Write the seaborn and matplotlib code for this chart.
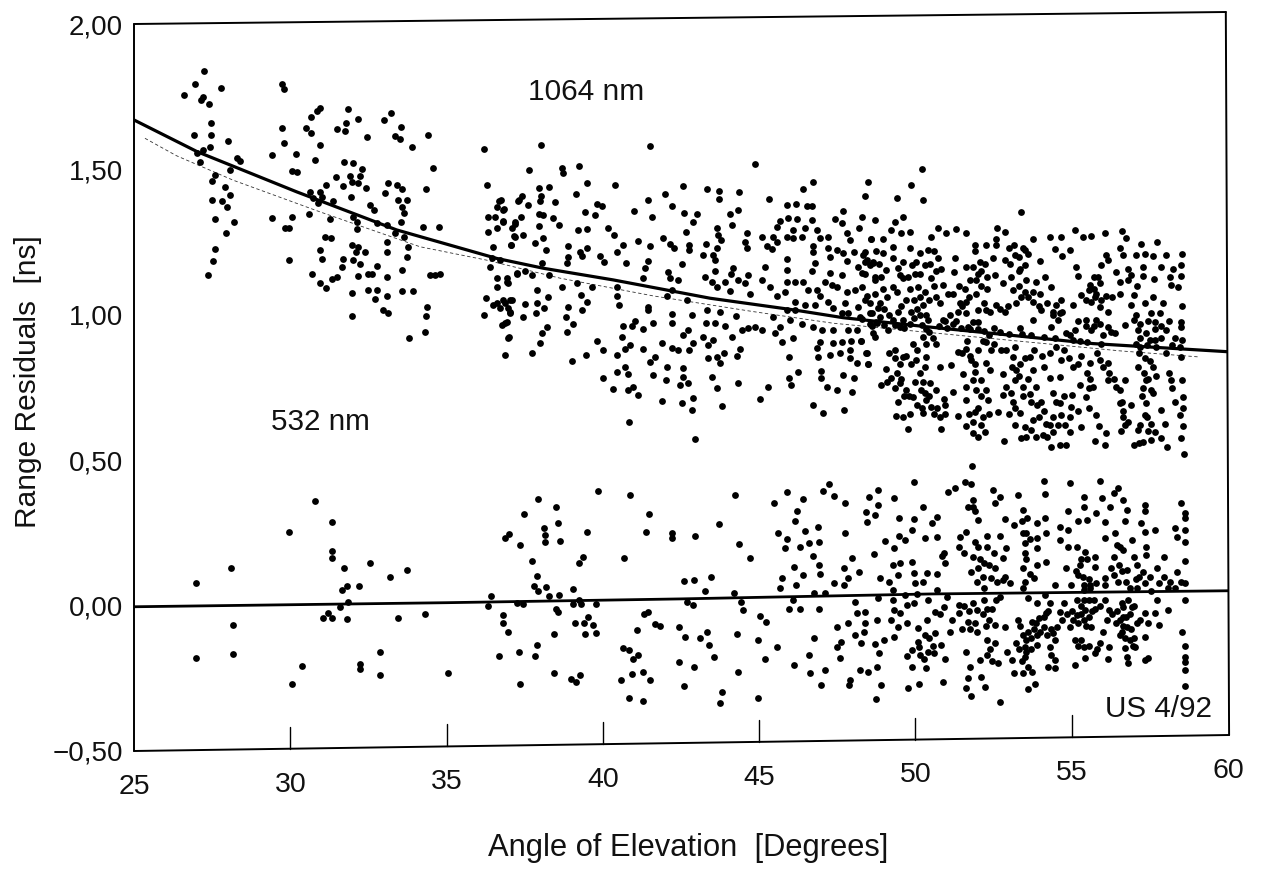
import matplotlib
matplotlib.use("Agg")
import matplotlib.pyplot as plt
import matplotlib.transforms as mtrans
import pandas as pd
import seaborn as sns

x_ticks = [25, 30, 35, 40, 45, 50, 55, 60]
y_ticks = [-0.5, 0.0, 0.5, 1.0, 1.5, 2.0]
y_tick_labels = ["\u22120,50", "0,00", "0,50", "1,00", "1,50", "2,00"]

curve_1064_thick = [(25, 1.67), (27.02, 1.561), (30.2, 1.423), (33.4, 1.292), (36.6, 1.194), (38.1, 1.16),
                    (40.33, 1.12), (43.43, 1.057), (46.1, 1.017), (47.69, 0.99), (50.35, 0.959), (52.48, 0.936),
                    (55.68, 0.901), (60, 0.873)]
curve_1064_thin = [(25.35, 1.607), (26.36, 1.547), (28.17, 1.463), (30.95, 1.354), (34.15, 1.234), (36.28, 1.188),
                   (38.63, 1.126), (41.61, 1.065), (44.81, 1.011), (47.37, 0.971), (56.54, 0.876), (59.09, 0.855)]
curve_532 = [(25, -0.004), (35, 0.01), (42.47, 0.023), (50.47, 0.04), (60, 0.051)]

upper_a = [(27.24,1.84),(26.94,1.795),(26.60,1.756),(27.78,1.78),(27.22,1.75),(27.14,1.74),(27.40,1.725),(27.47,1.66),
(26.91,1.62),(27.46,1.62),(28.0,1.597),(27.43,1.576),(27.22,1.567),(27.02,1.555),(27.11,1.526),(28.28,1.538),(28.39,1.53),
(28.07,1.498),(27.59,1.48),(27.50,1.46),(27.91,1.438),(28.07,1.412),(27.83,1.392),(27.49,1.396),(27.99,1.372),(27.59,1.33),
(28.19,1.319),(27.94,1.283),(27.59,1.227),(27.54,1.186),(27.38,1.137)]

upper_b = [(29.74,1.794),(29.80,1.776),(29.75,1.642),(29.81,1.592),(29.41,1.548),(30.95,1.71),(30.84,1.70),(30.66,1.68),
(30.50,1.643),(30.65,1.626),(30.96,1.585),(30.18,1.553),(30.78,1.531),(30.04,1.493),(30.20,1.492),(29.43,1.334),(30.05,1.337),
(29.83,1.30),(29.97,1.30),(29.97,1.19),(31.85,1.708),(31.78,1.66),(32.18,1.673),(31.48,1.639),(31.75,1.631),(32.45,1.61),
(33.0,1.67),(33.23,1.693),(33.53,1.647),(33.35,1.615),(33.50,1.603),(33.90,1.577),(34.40,1.62),(34.55,1.506),(34.35,1.432),
(31.71,1.524),(32.0,1.522),(32.28,1.502),(31.91,1.479),(32.23,1.477),(31.47,1.474),(31.69,1.444),(31.96,1.455),(32.17,1.454),
(32.43,1.436),(31.13,1.446),(30.95,1.423),(30.63,1.423),(30.73,1.40),(31.02,1.406),(31.37,1.392),(30.89,1.383),(30.61,1.345),
(31.26,1.329),(31.94,1.405),(32.55,1.377),(32.67,1.36),(33.12,1.454),(33.03,1.42),(33.42,1.446),(33.56,1.432),(33.45,1.395),
(33.72,1.395),(33.59,1.372),(33.63,1.349),(33.53,1.319),(34.25,1.303),(34.76,1.302),(32.01,1.337),(32.14,1.32),(32.14,1.294),
(32.76,1.314),(33.08,1.309),(33.35,1.282),(33.63,1.268),(33.11,1.249),(33.11,1.215),(33.77,1.234),(33.72,1.20),(33.59,1.154),
(34.46,1.137),(34.62,1.137),(34.78,1.139),(33.58,1.082),(33.94,1.082),(34.38,1.028),(34.34,0.996),(34.32,0.941),(33.80,0.92),
(31.11,1.268),(31.29,1.263),(30.95,1.223),(31.02,1.192),(31.96,1.24),(32.17,1.234),(32.10,1.217),(32.39,1.215),(31.69,1.192),
(31.64,1.165),(32.01,1.188),(32.23,1.175),(31.48,1.131),(31.32,1.122),(30.71,1.139),(30.95,1.11),(31.13,1.093),(32.17,1.133),
(32.49,1.142),(32.76,1.168),(32.6,1.142),(33.08,1.129),(32.49,1.085),(32.78,1.085),(31.96,1.076),(33.08,1.064),(32.71,1.054),
(32.97,1.016),(33.13,1.007),(31.98,0.996)]

upper_c = [(36.2,1.569),(36.28,1.446),(36.68,1.392),(36.6,1.372),(36.81,1.36),(37.31,1.395),(36.33,1.335),(36.54,1.337),
(36.79,1.32),(36.31,1.286),(36.6,1.30),(37.18,1.32),(37.08,1.297),(37.18,1.268),(36.47,1.234),(37.05,1.24),(36.44,1.194),
(36.7,1.188),(36.4,1.163),(37.24,1.142),(36.6,1.128),(36.92,1.128),(36.97,1.108),(36.6,1.097),(36.25,1.059),(36.6,1.04),
(36.81,1.051),(36.49,1.034),(37.02,1.051),(36.7,1.022),(36.97,1.022),(37.02,1.005),(36.2,1.00),(36.92,0.976),(36.76,0.965),
(36.97,0.921)]

upper_d = [(38.01,1.584),(41.52,1.582),(44.87,1.519),(37.64,1.497),(38.68,1.506),(38.74,1.487),(39.25,1.512),(39.48,1.452),
(40.39,1.447),(38.29,1.441),(37.97,1.435),(38.01,1.407),(37.99,1.39),(39.14,1.415),(38.46,1.388),(37.40,1.407),(37.30,1.392),
(37.62,1.379),(36.74,1.395),(36.84,1.363),(39.80,1.381),(39.96,1.374),(39.75,1.344),(39.43,1.352),(37.97,1.347),(38.10,1.344),
(38.42,1.332),(38.61,1.309),(37.37,1.335),(37.19,1.313),(36.80,1.321),(37.97,1.305),(39.19,1.291),(39.48,1.295),(40.17,1.298),
(40.37,1.275),(37.17,1.271),(37.46,1.275),(37.06,1.24),(38.10,1.263),(37.83,1.248),(38.17,1.223),(38.90,1.235),(39.27,1.217),
(39.50,1.231),(40.63,1.24),(40.44,1.216),(41.13,1.254),(41.52,1.235),(38.90,1.20),(38.86,1.177),(39.32,1.203),(39.91,1.203),
(40.04,1.183),(40.74,1.178),(41.45,1.186),(41.35,1.16),(41.29,1.128),(38.04,1.177),(37.24,1.143),(37.51,1.149),(37.72,1.137),
(38.29,1.137),(36.92,1.114),(38.70,1.097),(39.16,1.11),(39.64,1.097),(37.90,1.086),(38.24,1.06),(39.30,1.067),(39.50,1.044),
(37.08,1.051),(36.87,1.04),(37.03,1.011),(37.51,1.038),(37.90,1.04),(38.12,1.023),(37.85,1.005),(37.46,0.994),(38.90,1.026),
(39.34,1.015),(38.82,0.994),(39.06,0.968),(38.84,0.94),(36.87,0.971),(38.20,0.957),(38.04,0.937),(37.99,0.902),(37.0,0.922),
(36.87,0.862),(37.72,0.87),(39.0,0.841),(39.45,0.862),(39.81,0.91),(40.0,0.879),(40.44,1.097),(40.44,1.063),(40.52,1.034),
(41.45,1.028),(41.45,1.017),(41.03,0.977),(40.65,0.963),(40.92,0.962),(41.29,0.95),(41.61,0.971),(40.60,0.925),(40.87,0.897),
(40.71,0.882),(40.44,0.862),(41.27,0.882),(41.67,0.856),(41.51,0.839),(40.71,0.822),(40.44,0.805),(40.81,0.797),(39.99,0.782),
(40.33,0.744),(40.81,0.742),(40.97,0.753),(41.13,0.725),(40.84,0.633),(41.61,0.793),(42.01,0.776),(42.04,0.822),(41.88,0.705),
(42.53,0.698),(42.84,0.673),(42.89,0.713),(42.96,0.574),(43.80,0.687),(42.55,0.816),(42.55,0.787),(42.73,0.765),(42.47,0.759),
(41.45,1.396),(42.0,1.416),(42.55,1.443),(43.32,1.433),(43.71,1.427),(43.73,1.397),(44.35,1.423),(42.21,1.374),(40.99,1.358),
(41.58,1.338),(42.59,1.349),(43.02,1.348),(42.87,1.318),(42.66,1.286),(41.93,1.264),(42.15,1.244),(42.27,1.229),(42.75,1.24),
(42.77,1.223),(43.29,1.245),(43.64,1.298),(43.69,1.275),(43.77,1.258),(43.64,1.229),(43.53,1.206),(43.21,1.204),(43.59,1.189),
(42.52,1.173),(42.09,1.148),(42.15,1.126),(42.40,1.118),(43.59,1.149),(44.17,1.162),(44.09,1.139),(43.27,1.129),(43.48,1.114),
(43.64,1.097),(43.91,1.112),(44.33,1.12),(44.65,1.137),(44.55,1.111),(44.07,1.083),(44.71,1.072),(45.1,1.12),(45.35,1.097),
(42.04,1.063),(42.2,1.086),(42.68,1.051),(43.32,1.017),(43.75,1.011),(42.22,1.003),(42.21,0.971),(42.84,1.0),(43.29,0.973),
(43.59,0.971),(43.91,0.962),(44.26,0.996),(44.44,0.948),(44.65,0.954),(44.87,0.959),(45.08,0.948),(42.73,0.948),(42.55,0.931),
(43.21,0.925),(43.53,0.914),(43.37,0.896),(44.12,0.922),(42.89,0.904),(41.88,0.902),(42.2,0.885),(42.41,0.879),(42.77,0.879),
(44.39,0.883),(44.30,0.859),(43.87,0.87),(43.64,0.856),(43.37,0.851),(43.75,0.833),(43.50,0.786),(43.64,0.75),(44.32,0.767),
(45.29,0.753),(45.03,0.712),(45.96,0.782),(46.02,0.759),(46.25,0.805),(46.73,0.69),(47.03,0.661),(47.71,0.673),(47.96,0.733),
(47.48,0.742),(47.16,0.753),(47.69,0.793),(48.03,0.784),(46.99,0.808),(46.99,0.782),(48.49,0.831),(48.44,0.87),(48.12,0.833),
(47.90,0.851),(47.90,0.879),(47.58,0.868),(47.26,0.862),(46.89,0.856),(46.84,0.885),(46.94,0.908),(47.37,0.902),(47.64,0.908),
(47.93,0.91),(48.26,0.91),(47.37,0.948),(47.0,0.948),(46.73,0.959),(46.38,0.969),(46.09,0.92),(45.72,0.906),(45.94,0.856),
(45.50,0.937),(45.67,0.959),(46.0,0.982),(45.45,0.994),(47.85,0.948),(48.12,0.948),(48.70,0.925),(48.76,0.971),
(45.32,1.397),(45.88,1.379),(46.18,1.382),(46.52,1.374),(46.68,1.374),(46.39,1.432),(46.73,1.456),(48.47,1.458),(48.40,1.408),
(44.07,1.347),(44.32,1.36),(44.12,1.309),(44.6,1.28),(44.55,1.252),(44.6,1.229),(45.08,1.269),(45.45,1.269),(45.24,1.237),
(45.56,1.252),(45.40,1.225),(45.67,1.324),(45.93,1.332),(46.2,1.331),(45.56,1.303),(46.09,1.292),(46.46,1.298),(46.68,1.326),
(45.88,1.269),(46.09,1.263),(46.36,1.269),(46.84,1.292),(46.94,1.263),(47.21,1.269),(47.69,1.357),(47.42,1.329),(47.64,1.315),
(48.30,1.338),(48.21,1.298),(48.70,1.326),(47.80,1.28),(47.90,1.258),(48.58,1.26),(46.73,1.235),(46.73,1.217),(47.21,1.229),
(47.48,1.223),(47.69,1.212),(47.26,1.2),(48.03,1.215),(48.38,1.217),(47.82,1.184),(48.44,1.189),(46.78,1.177),(46.68,1.149),
(48.17,1.166),(48.65,1.177),(45.88,1.191),(45.88,1.154),(45.19,1.166),(45.88,1.114),(46.14,1.114),(46.41,1.114),(45.83,1.08),
(46.57,1.086),(46.84,1.086),(47.10,1.114),(47.26,1.143),(47.64,1.137),(47.32,1.103),(47.48,1.097),(48.28,1.143),(48.28,1.097),
(48.70,1.12),(46.94,1.063),(47.21,1.045),(47.80,1.08),(48.06,1.086),(48.44,1.063),(47.74,1.04),(48.17,1.028),(48.54,1.04),
(45.56,1.063),(46.14,1.045),(46.47,1.034),(46.78,1.034),(47.37,1.023),(47.64,1.005),(47.85,1.005),(48.22,0.994),(48.60,1.005),
(48.81,1.023),(45.88,1.017),(46.14,1.017)]

upper_e = [(50.2,1.503),(49.87,1.448),(49.42,1.40),(50.25,1.395),(53.39,1.352),(49.61,1.337),(49.34,1.32),(49.23,1.291),
(49.55,1.28),(49.82,1.285),(48.97,1.262),(48.59,1.259),(50.73,1.297),(50.51,1.268),(50.97,1.283),(51.31,1.296),(51.63,1.283),
(52.61,1.297),(52.86,1.285),(52.59,1.262),(51.9,1.24),(51.9,1.22),(52.27,1.24),(52.59,1.24),(53.15,1.24),(53.76,1.262),
(53.5,1.222),(53.18,1.205),(54.3,1.268),(54.67,1.268),(54.46,1.225),(54.94,1.222),(54.70,1.202),(55.1,1.291),(55.36,1.266),
(55.63,1.27),(56.06,1.28),(56.61,1.288),(56.75,1.265),(57.21,1.243),(57.73,1.251),(56.54,1.228),(56.64,1.205),(56.11,1.207),
(56.16,1.188),(57.07,1.205),(57.34,1.209),(57.6,1.202),(58.03,1.207),(58.53,1.209),(58.51,1.171),(54.0,1.186),(53.02,1.176),
(53.34,1.159),(52.54,1.136),(52.48,1.194),(52.22,1.176),(51.84,1.165),(51.63,1.165),(51.26,1.194),(51.24,1.148),(50.83,1.156),
(50.41,1.222),(50.14,1.211),(49.82,1.228),(49.29,1.234),(48.75,1.22),(48.33,1.205),(50.73,1.194),(50.46,1.176),(50.03,1.182),
(49.61,1.182),(49.29,1.194),(48.97,1.211),(48.65,1.182),(49.07,1.154),(49.50,1.136),(48.70,1.131),(48.38,1.142),(50.14,1.142),
(50.51,1.125),(55.15,1.165),(55.2,1.134),(55.95,1.171),(56.43,1.148),(56.8,1.159),(56.91,1.136),(57.28,1.165),(57.28,1.134),
(57.63,1.123),(57.87,1.165),(58.24,1.159),(58.13,1.131),(58.51,1.134),(58.19,1.102),(58.40,1.094),(56.54,1.113),(56.8,1.119),
(57.1,1.099),(55.84,1.131),(55.58,1.102),(55.31,1.068),(55.79,1.073),(56.11,1.065),(56.54,1.073),(56.98,1.069),(55.63,1.045),
(55.9,1.027),(56.16,1.01),(56.91,1.033),(57.34,1.039),(57.6,1.062),(57.92,1.039),(58.54,1.031),(54.67,1.05),(55.04,1.033),
(54.62,1.005),(54.40,1.01),(54.56,0.982),(54.14,1.131),(54.35,1.096),(53.87,1.113),(53.55,1.119),(52.8,1.108),(53.12,1.085),
(53.39,1.062),(53.23,1.039),(53.98,1.073),(53.76,1.045),(54.03,1.016),(53.76,0.982),(52.59,1.033),(52.86,1.01),(52.27,1.016),
(52.0,1.016),(51.63,1.045),(51.42,1.039),(50.89,1.102),(51.05,1.073),(50.67,1.062),(50.25,1.033),(49.82,1.09),(49.71,1.05),
(50.09,1.096),(50.14,1.062),(49.29,1.096),(48.7,1.073),(48.86,1.039),(48.38,1.05),(48.54,1.005),(48.86,0.993),(49.29,0.982),
(49.61,0.982),(49.82,0.97),(50.14,1.0),(50.41,0.982),(49.50,0.959),(49.13,0.947),(48.65,0.936),(48.54,0.97),(50.89,0.982),
(51.31,0.979),(51.63,1.005),(51.84,0.976),(52.0,0.976),(51.68,0.959),(53.34,0.953),(54.35,0.959),(54.83,0.936),(55.1,0.947),
(55.47,0.982),(55.79,0.982),(55.63,0.947),(56.16,0.959),(56.38,0.936),(56.7,0.964),(57.0,0.982),(57.12,0.947),(57.55,1.007),
(57.81,1.005),(57.65,0.976),(57.39,0.936),(58.03,0.947),(58.51,0.976),(58.51,0.959),(58.54,0.913),(57.65,0.913),(57.07,0.901),
(55.04,0.913),(48.43,0.87),(48.49,0.83),(48.27,0.909),(49.07,0.813),(49.34,0.878),(49.61,0.855),(50.35,0.901),(50.67,0.901),
(49.93,0.901),(50.03,0.844),(50.35,0.855),(50.3,0.821),(50.78,0.819),(51.15,0.827),(51.36,0.873),(51.63,0.884),(51.79,0.844),
(52.27,0.907),(52.43,0.878),(52.27,0.833),(52.38,0.81),(51.9,0.804),(51.53,0.795),(52.8,0.798),(52.91,0.878),(53.12,0.855),
(53.66,0.855),(54.3,0.867),(54.67,0.844),(55.04,0.821),(54.62,0.787),(54.3,0.781),(55.58,0.833),(55.9,0.844),(56.16,0.833),
(57.12,0.821),(57.6,0.821),(58.03,0.867),(58.51,0.855),(56.7,0.775),(56.16,0.775),(56.43,0.752),(55.68,0.752),(55.47,0.718),
(55.0,0.724),(54.4,0.73),(53.87,0.752),(53.23,0.81),(53.18,0.775),(53.44,0.752),(53.66,0.729),(52.91,0.752),(52.8,0.724),
(52.27,0.741),(51.63,0.752),(51.63,0.707),(51.2,0.735),(52.11,0.775),(51.84,0.775),(50.46,0.764),(50.19,0.741),(49.5,0.764),
(49.23,0.781),(48.91,0.758),(49.71,0.741),(49.93,0.718),(49.45,0.701),(50.35,0.706),(50.51,0.684),(50.94,0.689),(50.78,0.649),
(50.25,0.661),(49.82,0.658),(49.37,0.651),(49.77,0.607),(50.81,0.609),(51.36,0.653),(51.61,0.618),(51.84,0.594),(51.9,0.666),
(52.22,0.598),(52.16,0.649),(52.32,0.707),(52.64,0.666),(52.83,0.567),(53.12,0.701),(53.34,0.661),(53.5,0.615),(53.39,0.575),
(53.71,0.603),(53.76,0.638),(54.03,0.701),(54.19,0.626),(54.08,0.586),(54.4,0.598),(54.35,0.546),(54.62,0.552),(54.83,0.552),
(54.62,0.695),(54.99,0.684),(54.4,0.649),(54.67,0.655),(54.96,0.598),(55.31,0.615),(55.55,0.678),(55.79,0.655),(55.87,0.618),
(55.74,0.567),(56.11,0.592),(56.06,0.552),(56.57,0.601),(56.64,0.649),(56.54,0.695),(56.91,0.689),(57.0,0.552),(57.28,0.563),
(57.12,0.603),(57.39,0.695),(57.34,0.655),(57.55,0.626),(57.65,0.598),(57.87,0.575),(58.05,0.546),(57.87,0.672),(57.98,0.626),
(58.45,0.655),(58.56,0.618),(58.51,0.575),(58.58,0.52),(58.54,0.775),(58.56,0.718),(58.29,0.701),(58.19,0.775),(57.39,0.775),
(57.6,0.73),(57.28,0.747)]

upper_f = [(48.4,1.18),(48.55,1.17),(48.85,1.175),(48.9,1.13),(48.95,1.09),(49.1,1.06),(49.0,1.02),(49.15,1.0),(49.45,1.16),
(49.6,1.125),(49.4,1.08),(49.55,1.03),(49.75,1.13),(49.9,1.17),(50.0,1.14),(49.95,1.05),(50.05,1.02),(50.3,1.17),(50.3,1.08),
(50.35,1.0),(50.6,1.22),(50.65,1.15),(50.6,1.1),(50.8,1.04),(50.45,1.05),(49.85,1.01),(49.45,1.01),(48.3,0.985),(48.6,0.96),
(48.75,0.975),(49.0,0.965),(49.35,0.965),(49.65,0.955),(49.95,0.99),(50.2,0.965),(50.35,0.95),(50.25,0.925),(50.45,0.94),
(50.55,0.92),(50.75,0.96),(51.0,0.955),(51.2,0.97),(51.45,0.955),(51.75,0.95),(52.0,0.95),(52.2,0.945),(52.35,0.93),(52.5,0.955),
(52.7,0.94),(53.0,0.935),(53.4,0.935),(53.7,0.93),(54.1,0.925),(54.45,0.92),(54.95,0.93),(55.25,0.91),(55.5,0.905),(55.95,0.9),
(57.2,0.89),(57.4,0.895),(57.5,0.915),(57.7,0.89),(57.85,0.92),(58.2,0.895),(58.45,0.89),(51.95,1.12),(52.1,1.1),(52.3,1.09),
(52.1,1.15),(52.3,1.13),(51.5,1.03),(51.7,1.06),(51.95,1.07),(52.2,1.04),(52.4,1.01),(52.7,1.02),(52.95,1.03),(53.05,1.13),
(53.3,1.1),(53.5,1.08),(53.6,1.06),(53.75,1.08),(53.95,1.03),(54.2,1.04),(54.4,1.0),(54.5,1.035),(54.7,1.01),(55.2,0.98),
(55.45,0.96),(55.7,0.96),(55.9,0.97),(56.0,0.93),(56.25,0.94),(55.45,1.05),(55.55,1.085),(55.7,1.09),(55.75,1.06),(55.95,1.05),
(55.7,1.13),(55.9,1.11),(56.3,1.06),(57.05,1.0),(57.2,0.97),(57.45,0.98),(57.65,0.95),(57.85,0.96),(58.1,0.98),(57.2,0.92),
(58.3,0.92),(53.0,1.23),(53.3,1.2),(53.45,1.23),(53.6,1.21),(53.3,1.15),(53.5,1.17),(52.85,1.19),(52.05,1.18),(52.0,1.14),
(51.75,1.12),(51.6,1.09),(51.2,1.07),(51.4,1.1),(51.1,1.0),(50.95,0.98),(51.35,1.01),(49.15,0.87),(49.35,0.85),(49.5,0.83),
(49.4,0.8),(49.7,0.86),(49.85,0.83),(50.05,0.88),(50.15,0.8),(50.25,0.77),(50.0,0.77),(50.3,0.73),(50.05,0.69),(50.2,0.68),
(50.45,0.72),(50.65,0.74),(50.7,0.68),(50.6,0.66),(50.95,0.66),(50.9,0.71),(49.55,0.78),(49.35,0.75),(49.1,0.77),(49.8,0.72),
(49.65,0.72),(49.6,0.65),(51.5,0.87),(51.75,0.86),(51.9,0.83),(52.0,0.88),(51.65,0.91),(52.15,0.91),(52.5,0.9),(52.75,0.88),
(53.2,0.89),(53.1,0.82),(53.35,0.83),(53.5,0.85),(53.3,0.79),(53.45,0.72),(53.6,0.78),(53.75,0.81),(53.8,0.88),(54.05,0.86),
(54.1,0.82),(54.5,0.89),(54.75,0.88),(54.9,0.85),(55.2,0.83),(55.3,0.86),(55.5,0.8),(55.6,0.78),(55.55,0.75),(55.25,0.76),
(55.8,0.87),(56.0,0.82),(56.2,0.8),(56.35,0.78),(56.55,0.74),(56.6,0.7),(56.65,0.67),(56.8,0.63),(56.7,0.62),(57.15,0.87),
(57.35,0.85),(57.5,0.84),(57.3,0.8),(57.45,0.78),(57.7,0.79),(57.55,0.74),(57.25,0.72),(57.4,0.65),(57.2,0.62),(57.45,0.6),
(57.55,0.57),(57.15,0.56),(58.1,0.8),(58.2,0.75),(58.55,0.68),(51.7,0.66),(51.85,0.63),(52.0,0.68),(52.1,0.62),(52.0,0.58),
(51.95,0.74),(52.1,0.72),(52.35,0.66),(53.05,0.73),(53.2,0.68),(53.0,0.66),(53.2,0.62),(53.55,0.58),(53.85,0.58),(53.95,0.65),
(54.1,0.67),(54.3,0.62),(54.2,0.58),(54.55,0.62),(54.5,0.7),(54.8,0.62),(54.95,0.65),(55.2,0.67),(54.75,0.72),(53.7,0.7),(53.9,0.69)]

lower_a = [(26.97,0.079),(28.10,0.131),(28.16,-0.067),(26.97,-0.181),(28.18,-0.168),(29.97,0.253),(30.80,0.361),(31.34,0.288),
(31.34,0.187),(31.33,0.162),(31.72,0.128),(32.56,0.146),(33.20,0.099),(33.72,0.124),(31.81,0.068),(31.64,0.053),(32.21,0.067),
(31.86,0.011),(31.60,-0.004),(31.20,-0.027),(31.06,-0.044),(31.32,-0.044),(31.83,-0.046),(33.44,-0.042),(34.32,-0.03),
(30.36,-0.207),(30.04,-0.269),(32.23,-0.201),(32.22,-0.218),(32.88,-0.161),(32.86,-0.24),(35.05,-0.232),(36.41,0.033),
(36.32,-0.002),(36.80,-0.033),(36.81,-0.061),(36.95,-0.091),(36.69,-0.175),(37.33,-0.16),(37.83,-0.172),(37.89,-0.134),
(37.34,-0.27),(38.44,-0.232),(38.45,-0.099),(37.34,0.208),(37.01,0.245),(36.87,0.233),(37.49,0.314),(37.94,0.366),(38.50,0.34),
(38.56,0.284),(38.12,0.267),(38.15,0.242),(38.15,0.22),(38.63,0.222),(37.74,0.154),(37.90,0.103),(37.81,0.068),(37.94,0.05),
(38.17,0.065),(38.29,0.033),(38.61,0.035),(39.05,0.056),(39.48,0.252),(39.37,0.168),(39.25,0.146),(39.86,0.395),(40.87,0.379),
(41.48,0.314),(41.38,0.252),(40.68,0.162),(42.22,0.248),(42.22,0.231),(37.24,0.01),(37.46,0.004),(38.49,-0.01),(38.58,-0.023),
(39.04,0.004),(39.29,0.004),(39.24,0.019),(39.77,0.004),(39.53,-0.038),(39.12,-0.059),(39.41,-0.059),(39.67,-0.067),
(39.78,-0.093),(39.43,-0.098),(41.44,-0.021),(41.33,-0.029),(41.66,-0.062),(41.84,-0.069),(41.09,-0.085),(42.44,-0.075),
(40.64,-0.145),(40.84,-0.154),(41.12,-0.17),(40.98,-0.182),(42.44,-0.193),(39.26,-0.24),(38.98,-0.254),(39.13,-0.263),
(40.92,-0.235),(41.28,-0.23),(41.50,-0.257),(40.58,-0.256),(40.84,-0.319),(41.30,-0.328)]

lower_b = [(51.81,0.481),(49.94,0.426),(54.12,0.427),(54.94,0.423),(55.9,0.427),(47.25,0.418),(47.04,0.395),(45.9,0.392),
(44.22,0.379),(45.46,0.354),(46.41,0.365),(47.41,0.378),(47.76,0.352),(48.79,0.397),(48.53,0.375),(49.3,0.369),(48.81,0.346),
(50.24,0.34),(51.04,0.389),(51.27,0.405),(51.58,0.426),(51.78,0.418),(52.47,0.397),(52.72,0.375),(52.53,0.354),(53.27,0.38),
(54.15,0.383),(51.84,0.363),(51.84,0.34),(51.67,0.34),(51.9,0.325),(55.38,0.375),(55.38,0.34),(54.89,0.326),(55.96,0.371),
(56.47,0.403),(56.36,0.386),(56.64,0.363),(56.76,0.329),(56.24,0.34),(57.33,0.346),(57.36,0.326),(58.49,0.352),(58.64,0.317),
(58.64,0.3),(43.70,0.282),(42.96,0.238),(44.36,0.211),(44.70,0.162),(46.21,0.325),(46.15,0.292),(45.6,0.25),(45.9,0.228),
(45.82,0.197),(46.47,0.256),(46.87,0.269),(46.3,0.203),(46.58,0.216),(46.93,0.22),(46.73,0.172),(47.75,0.248),(48.41,0.323),
(48.7,0.311),(48.44,0.289),(49.46,0.3),(49.96,0.298),(50.68,0.306),(50.53,0.283),(51.99,0.294),(49.9,0.26),(49.02,0.223),
(49.46,0.239),(49.67,0.226),(49.33,0.197),(50.3,0.234),(50.68,0.237),(48.68,0.176),(50.93,0.18),(50.95,0.145),(51.61,0.254),
(51.44,0.237),(52.3,0.239),(52.72,0.239),(51.38,0.203),(51.56,0.18),(52.01,0.203),(52.3,0.203),(52.5,0.18),(52.89,0.199),
(52.81,0.162),(52.87,0.298),(53.16,0.277),(53.44,0.329),(53.56,0.3),(53.9,0.283),(54.13,0.3),(53.44,0.248),(53.5,0.214),
(53.9,0.231),(54.19,0.248),(53.5,0.18),(53.9,0.197),(53.44,0.128),(53.9,0.14),(54.19,0.151),(53.78,0.094),(54.64,0.271),
(54.87,0.26),(54.64,0.225),(54.87,0.203),(55.16,0.203),(55.21,0.291),(55.5,0.294),(55.78,0.317),(56.07,0.289),(56.72,0.291),
(57.21,0.285),(56.39,0.248),(56.05,0.231),(56.93,0.225),(57.33,0.254),(57.67,0.26),(58.3,0.266),(58.36,0.237),(58.64,0.26),
(58.64,0.22),(55.44,0.185),(55.73,0.168),(56.36,0.166),(56.64,0.191),(57.38,0.203),(57.38,0.174),(57.96,0.168),(58.64,0.153),
(56.98,0.168),(57.73,0.131),(58.38,0.117),(54.81,0.131),(55.27,0.14),(55.73,0.134),(55.21,0.105),(54.98,0.071),(54.47,0.071),
(55.78,0.079),(56.07,0.094),(56.36,0.105),(56.76,0.122),(57.1,0.14),(57.27,0.117),(56.47,0.082),(57.33,0.076),(57.96,0.099),
(57.79,0.076),(58.64,0.076),(57.1,0.059),(58.07,0.059),(51.84,0.168),(52.18,0.145),(51.78,0.117),(52.53,0.128),(51.96,0.082),
(52.41,0.094),(52.81,0.088),(53.04,0.076),(53.44,0.059),(47.96,0.162),(47.73,0.131),(48.18,0.117),(46.13,0.134),(46.41,0.105),
(46.93,0.14),(46.95,0.109),(45.73,0.094),(45.67,0.059),(46.18,0.071),(43.46,0.099),(42.93,0.088),(42.58,0.085),(43.26,0.05),
(46.76,0.044),(47.1,0.044),(44.18,0.042),(47.38,0.079),(47.84,0.094),(47.73,0.071),(48.87,0.096),(49.16,0.082),(49.44,0.105),
(49.27,0.14),(49.5,0.145),(49.9,0.151),(49.96,0.111),(50.0,0.076),(50.36,0.111),(50.7,0.109),(50.24,0.082),(49.27,0.054),
(50.7,0.054),(54.13,0.036),(55.38,0.054),(42.7,0.013),(42.87,0.002),(44.41,0.013),(44.47,-0.015),(46.07,0.019),(45.96,-0.01),
(46.3,-0.01),(46.9,-0.012),(48.07,0.013),(48.13,-0.027),(48.39,-0.021),(45.04,-0.035),(45.21,-0.055),(48.81,0.025),(49.27,0.019),
(49.33,-0.015),(49.67,0.036),(49.73,0.002),(49.5,-0.027),(48.76,-0.05),(49.21,-0.05),(49.73,-0.061),(49.44,-0.073),(48.39,-0.061),
(48.36,-0.09),(48.07,-0.101),(47.84,-0.061),(47.5,-0.075),(47.61,-0.124),(47.5,-0.141),(48.26,-0.128),(48.98,-0.118),(48.7,-0.133),
(49.3,-0.107),(48.82,-0.162),(47.58,-0.179),(46.64,-0.233),(46.61,-0.17),(46.76,-0.113),(47.1,-0.222),(46.98,-0.273),(47.9,-0.256),
(47.88,-0.273),(48.24,-0.222),(48.47,-0.23),(48.78,-0.21),(48.9,-0.273),(48.73,-0.322),(49.75,-0.285),(50.13,-0.271),(50.87,-0.264),
(49.9,-0.21),(50.33,-0.216),(50.26,-0.185),(49.73,-0.172),(49.9,-0.153),(50.13,-0.141),(50.58,-0.164),(50.96,-0.184),(50.81,-0.136),
(50.07,-0.078),(50.36,-0.05),(50.07,-0.124),(50.64,-0.095),(51.1,-0.09),(50.93,-0.004),(50.64,-0.021),(51.16,-0.05),(51.38,0.002),
(51.38,-0.027),(51.67,-0.055),(51.96,-0.09),(51.96,-0.015),(52.3,-0.01),(52.58,0.019),(52.18,0.019),(51.84,0.008),(52.53,-0.067),
(52.87,-0.073),(52.53,-0.13),(52.3,-0.17),(52.64,-0.199),(52.93,-0.159),(53.1,-0.187),(51.61,-0.158),(51.73,-0.21),(51.67,-0.25),
(52.07,-0.187),(52.1,-0.245),(52.22,-0.281),(51.61,-0.285),(51.78,-0.31),(52.71,-0.33),(53.61,-0.288),(53.84,-0.271),(53.16,-0.233),
(53.44,-0.233),(53.73,-0.227),(53.5,-0.176),(53.21,-0.13),(53.5,-0.141),(53.9,-0.136),(54.3,-0.141),(54.47,-0.187),(54.24,-0.21),
(54.47,-0.216),(55.1,-0.204),(55.44,-0.181),(55.38,-0.141),(55.73,-0.164),(56.18,-0.141),(56.15,-0.184),(56.76,-0.176),(56.81,-0.199),
(57.33,-0.187),(57.44,-0.181),(57.04,-0.141),(56.7,-0.147),(57.33,-0.109),(56.53,-0.101),(56.76,-0.073),(56.98,-0.113),(57.79,-0.065),
(58.53,-0.09),(58.64,-0.138),(58.64,-0.176),(58.64,-0.193),(58.64,-0.222),(58.64,-0.277),(58.64,0.019),(58.07,-0.015),(57.73,0.019),
(57.67,-0.027),(57.33,-0.027),(57.44,-0.061),(56.93,-0.004),(56.64,-0.004),(56.64,-0.038),(56.41,-0.061),(56.13,-0.05),(56.01,-0.09),
(55.61,-0.073),(55.38,-0.05),(55.16,-0.032),(55.44,-0.015),(55.16,0.019),(55.56,0.019),(56.07,0.019),(56.18,-0.015),(54.76,0.008),
(54.64,-0.021),(54.18,-0.027),(53.9,0.008),(53.61,0.025),(53.73,-0.055),(53.27,-0.05),(53.61,-0.09),(54.12,-0.073),(53.96,-0.044),
(54.53,-0.073),(54.93,-0.073),(54.41,-0.095),(55.1,-0.118),(53.9,-0.101),(45.56,-0.141),(44.96,-0.118),(45.19,-0.184),(46.13,-0.204),
(44.33,-0.227),(44.28,-0.099),(42.64,-0.107),(43.1,-0.113),(43.33,-0.092),(43.38,-0.136),(43.56,-0.176),(42.9,-0.212),(42.58,-0.277),
(43.82,-0.296),(43.76,-0.336),(44.96,-0.317)]

lower_c = [(50.85,0.17),(51.9,0.22),(52.05,0.16),(52.15,0.1),(52.35,0.14),(52.0,0.13),(52.2,0.06),(52.6,0.08),(52.85,0.1),
(53.4,0.29),(53.55,0.25),(53.65,0.23),(53.55,0.16),(53.65,0.11),(53.5,0.08),(55.15,0.12),(55.35,0.1),(55.55,0.09),(55.4,0.07),
(55.3,0.16),(55.5,0.16),(55.6,0.07),(56.05,0.07),(56.25,0.13),(56.5,0.14),(56.6,0.12),(56.75,0.08),(56.85,0.06),(57.05,0.09),
(57.15,0.1),(56.55,0.2),(56.45,0.21),(57.5,0.1),(57.55,0.05),(58.15,0.08),(58.3,0.06),(58.5,0.08),(55.6,0.06),(50.3,-0.1),
(50.45,-0.11),(50.55,-0.14),(50.15,-0.17),(50.4,-0.16),(51.5,-0.08),(51.75,-0.08),(51.9,-0.06),(52.25,-0.07),(52.35,-0.05),
(52.15,-0.03),(52.45,-0.01),(49.95,0.01),(50.05,0.04),(50.4,0.02),(50.8,-0.03),(51.0,0.03),(51.55,0.0),(51.7,-0.02),(52.7,0.03),
(52.4,-0.15),(52.45,-0.19),(52.3,-0.12),(53.35,-0.07),(53.45,-0.1),(53.55,-0.12),(53.7,-0.11),(53.8,-0.08),(53.85,-0.06),
(54.0,-0.09),(54.1,-0.04),(54.25,-0.02),(54.3,0.01),(54.35,-0.08),(54.2,-0.1),(53.55,-0.16),(53.7,-0.15),(53.4,-0.19),(53.3,-0.15),
(53.6,-0.21),(54.35,-0.17),(54.45,-0.12),(54.7,-0.05),(54.85,-0.03),(55.0,-0.02),(55.05,-0.05),(55.2,-0.06),(55.3,-0.03),
(55.45,-0.07),(55.55,-0.04),(55.65,-0.02),(55.75,-0.01),(55.3,0.0),(55.4,0.02),(55.7,0.02),(55.9,0.0),(56.3,-0.03),(56.45,-0.02),
(56.55,-0.05),(56.65,-0.07),(56.75,-0.04),(56.85,-0.03),(56.9,-0.08),(56.6,-0.09),(56.7,-0.11),(56.85,-0.12),(56.95,-0.14),
(57.1,-0.06),(57.2,-0.05),(56.6,0.01),(56.8,0.02),(57.0,0.0),(55.3,-0.12),(55.2,-0.14),(55.55,-0.14),(55.9,-0.13),(55.8,-0.15)]

sns.set_theme(style="white")
plt.rcParams["font.family"] = ["Liberation Sans", "DejaVu Sans"]

W, H = 1262, 869
fig = plt.figure(figsize=(W / 100, H / 100), dpi=100, facecolor="white")
ax = fig.add_axes([134 / W, (H - 751) / H, 1094 / W, 727 / H])

points = pd.DataFrame(upper_a + upper_b + upper_c + upper_d + upper_e + upper_f + lower_a + lower_b + lower_c,
                      columns=["angle", "residual"])
sns.scatterplot(data=points, x="angle", y="residual", ax=ax, s=24, color="black", linewidth=0, zorder=3)
sns.lineplot(data=pd.DataFrame(curve_1064_thin, columns=["angle", "residual"]), x="angle", y="residual", ax=ax,
             color="#333333", linewidth=0.6, linestyle=(0, (4, 3)), errorbar=None, zorder=2)
sns.lineplot(data=pd.DataFrame(curve_1064_thick, columns=["angle", "residual"]), x="angle", y="residual", ax=ax,
             color="black", linewidth=2.3, errorbar=None, zorder=4)
sns.lineplot(data=pd.DataFrame(curve_532, columns=["angle", "residual"]), x="angle", y="residual", ax=ax,
             color="black", linewidth=2.0, errorbar=None, zorder=4)

ax.set_xlim(25, 60)
ax.set_ylim(-0.5, 2.0)
ax.set_xticks(x_ticks)
ax.set_yticks(y_ticks)
ax.set_yticklabels(y_tick_labels)
ax.tick_params(axis="y", direction="in", length=16, width=1.0, color="black", labelsize=20, labelcolor="#111111", pad=8)
ax.tick_params(axis="x", direction="in", length=0, labelsize=20.5, labelcolor="#111111", pad=16.5)

# The scanned frame leans slightly: its bottom edge climbs 16 px and its top edge 12 px from left to right.
for spine in ax.spines.values():
    spine.set_visible(False)
frame_kw = dict(color="black", linewidth=1.4, clip_on=False, transform=ax.transAxes, zorder=5)
ax.plot([0, 0], [0, 1], **frame_kw)
ax.plot([0, 0.998], [1, 1.0165], **frame_kw)
ax.plot([0.998, 1.001], [1.0165, 0.022], **frame_kw)
ax.plot([1.001, 0], [0.022, 0], **frame_kw)
lean_px_per_degree = 0.46
for value, label in zip(x_ticks, ax.get_xticklabels()):
    shift = lean_px_per_degree * (value - 25)
    label.set_transform(label.get_transform() + mtrans.Affine2D().translate(0, shift))
    if 25 < value < 60:
        base = shift / 727
        ax.plot([value, value], [base, base + 22 / 727], color="black", linewidth=1.0, clip_on=False,
                transform=ax.get_xaxis_transform(), zorder=5)

ax.set_xlabel("Angle of Elevation  [Degrees]", fontsize=22.2, color="#111111", va="center")
ax.xaxis.set_label_coords(0.507, -0.133)
ax.set_ylabel("Range Residuals  [ns]", fontsize=21.5, color="#111111", va="center")
ax.yaxis.set_label_coords(-0.0966, 0.5076)

ax.text(39.46, 1.766, "1064 nm", fontsize=21.5, ha="center", va="center", color="#111111")
ax.text(30.95, 0.631, "532 nm", fontsize=21.3, ha="center", va="center", color="#111111")
ax.text(57.79, -0.355, "US 4/92", fontsize=21.3, ha="center", va="center", color="#111111")

fig.savefig("out.png", dpi=100, facecolor="white")
